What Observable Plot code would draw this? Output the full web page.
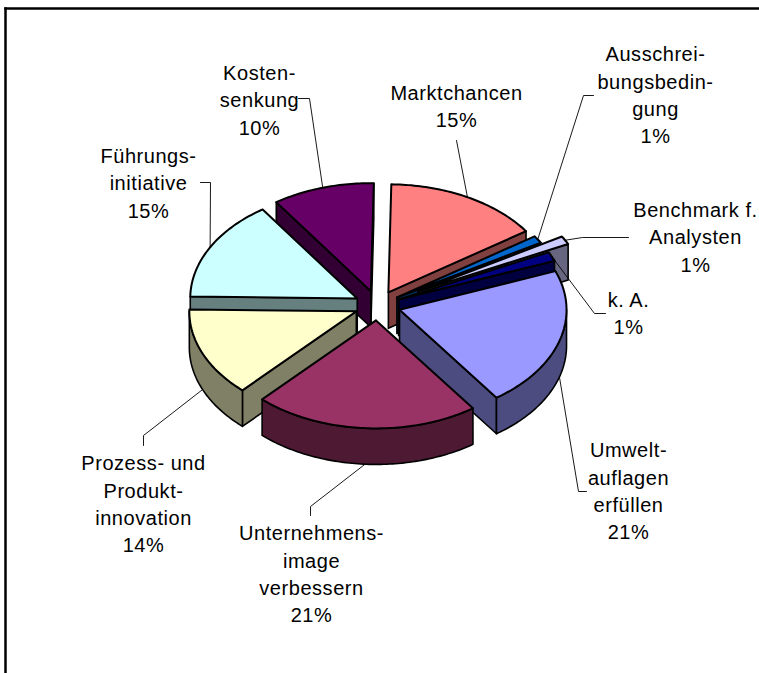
<!DOCTYPE html>
<html lang="de">
<head>
<meta charset="utf-8">
<style>
html,body{margin:0;padding:0;background:#fff}
svg{display:block}
</style>
<script src="https://cdn.jsdelivr.net/npm/d3@7"></script>
<script src="https://cdn.jsdelivr.net/npm/@observablehq/plot@0.6"></script>
</head>
<body>
<div id="chart"></div>
<script>
// Slices, clockwise from the top
const sliceNames = ["Marktchancen", "Ausschreibungsbedingung", "Benchmark f. Analysten", "k. A.", "Umweltauflagen erfüllen", "Unternehmensimage verbessern", "Prozess- und Produktinnovation", "Führungsinitiative", "Kostensenkung"];
const labelLines = ["Marktchancen", "Ausschrei-\nbungsbedin-\ngung", "Benchmark f.\nAnalysten", "k. A.", "Umwelt-\nauflagen\nerfüllen", "Unternehmens-\nimage\nverbessern", "Prozess- und\nProdukt-\ninnovation", "Führungs-\ninitiative", "Kosten-\nsenkung"];
const percentLabels = [15, 1, 1, 1, 21, 21, 14, 15, 10];
const sliceShares = [15.14, 1.11, 1.25, 1.39, 20.97, 21.8, 13.33, 15.14, 9.86];

// Styling and layout
const topColors = ["#FF8080", "#0066CC", "#CCCCFF", "#000080", "#9999FF", "#993366", "#FFFFCC", "#CCFFFF", "#660066"];
const wallColors = ["#804040", "#003366", "#666680", "#000040", "#4C4C80", "#4D1933", "#808066", "#668080", "#330033"];
const explode = [23, 23, 46, 23, 23, 23, 23, 23, 23];
const drawOrder = [0, 1, 2, 3, 8, 7, 6, 4, 5];
const labelX = [456, 655, 695, 628, 628, 311, 143, 148, 259];
const labelY = [104, 93, 235, 311, 489, 572, 502, 181, 98];
const leaderElbows = [
  [[456, 140]],
  [[583, 95], [593, 95]],
  [[582, 237], [628, 237]],
  [[594, 313], [605, 313]],
  [[578, 491], [586, 491]],
  [[310, 506], [310, 515]],
  [[143, 435], [143, 445]],
  [[210, 182], [200, 182]],
  [[309, 98], [298, 98]]
];
const pie = {cx: 377, cy: 305, rx: 167, ry: 108, depth: 36, startDeg: 1, explodeY: 0.65};

// Geometry derived from the shares
const total = d3.sum(sliceShares);
let acc = pie.startDeg;
const slices = sliceShares.map((v, i) => {
  const a0 = acc, a1 = acc + v / total * 360;
  acc = a1;
  const mid = (a0 + a1) / 2 * Math.PI / 180;
  const ax = pie.cx + explode[i] * Math.sin(mid);
  const ay = pie.cy - explode[i] * Math.cos(mid) * pie.explodeY;
  const rim = (deg, drop = 0) => {
    const t = deg * Math.PI / 180;
    return {x: ax + pie.rx * Math.sin(t), y: ay - pie.ry * Math.cos(t) + drop};
  };
  return {i, a0, a1, ax, ay, rim, midDeg: (a0 + a1) / 2};
});

function arc(s, from, to, drop = 0) {
  const n = Math.max(2, Math.ceil(Math.abs(to - from)));
  return d3.range(n + 1).map(k => s.rim(from + (to - from) * k / n, drop));
}
function close(points) {
  return [...points, points[0]];
}

const marks = [];
const face = (points, fill, strokeWidth) =>
  marks.push(Plot.line(close(points), {x: "x", y: "y", fill, stroke: "#000", strokeWidth, strokeLinejoin: "round"}));

for (const idx of drawOrder) {
  const s = slices[idx];
  const wall = wallColors[idx];
  const apex = {x: s.ax, y: s.ay};
  const apexLow = {x: s.ax, y: s.ay + pie.depth};
  const sinOf = d => Math.sin(d * Math.PI / 180);
  if (sinOf(s.a0) < 0) face([apex, s.rim(s.a0), s.rim(s.a0, pie.depth), apexLow], wall, 1.6);
  if (sinOf(s.a1) > 0) face([apex, s.rim(s.a1), s.rim(s.a1, pie.depth), apexLow], wall, 1.6);
  const f = Math.max(s.a0, 90), t = Math.min(s.a1, 270);
  if (t > f) face([...arc(s, f, t), ...arc(s, t, f, pie.depth)], wall, 1.6);
  face([apex, ...arc(s, s.a0, s.a1)], topColors[idx], 2);
}

// Leader lines start on the visible rim of each slice
const leaders = slices.flatMap(s => {
  const hang = s.midDeg > 90 && s.midDeg < 270 ? pie.depth : 0;
  const start = s.rim(s.midDeg, hang);
  return [start, ...leaderElbows[s.i].map(([x, y]) => ({x, y}))].map(p => ({...p, z: s.i}));
});
marks.push(Plot.line(leaders, {x: "x", y: "y", z: "z", stroke: "#000", strokeWidth: 0.9}));

const labels = sliceNames.map((name, i) => ({
  name,
  text: `${labelLines[i]}\n${percentLabels[i]}%`,
  x: labelX[i],
  y: labelY[i]
}));
marks.push(Plot.text(labels, {
  x: "x", y: "y", text: "text",
  textAnchor: "middle", lineAnchor: "middle", lineHeight: 1.365,
  fontSize: 20, fontFamily: "Liberation Sans, Arial, sans-serif", fill: "#000"
}));

marks.push(Plot.frame({anchor: "top", stroke: "#000", strokeWidth: 2.5}));
marks.push(Plot.frame({anchor: "left", stroke: "#000", strokeWidth: 2.5}));

const chart = Plot.plot({
  width: 759, height: 673,
  marginLeft: 5, marginTop: 8, marginRight: 0, marginBottom: 0,
  x: {domain: [5, 759], axis: null},
  y: {domain: [8, 673], reverse: true, axis: null},
  style: {background: "#fff", overflow: "hidden", letterSpacing: "0.55px"},
  marks
});
document.getElementById("chart").append(chart);
</script>
</body>
</html>
